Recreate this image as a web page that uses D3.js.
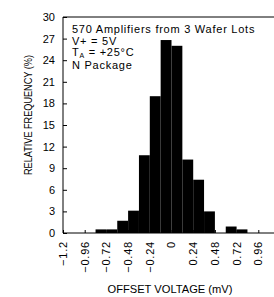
<!DOCTYPE html>
<html>
<head>
<meta charset="utf-8">
<script src="https://cdn.jsdelivr.net/npm/d3@7"></script>
<style>
  body { margin: 0; background: #fff; }
  svg text { font-family: "Liberation Sans", Arial, sans-serif; fill: #000; }
</style>
</head>
<body>
<div id="chart"></div>
<script>
// histogram bins (left edge, mV) and relative frequency (%)
var binStarts = [-0.84, -0.72, -0.6, -0.48, -0.36, -0.24, -0.12, 0, 0.12, 0.24, 0.36, 0.48, 0.6, 0.72];
var frequencies = [0.5, 0.5, 1.7, 3.1, 10.8, 19.0, 26.8, 26.0, 10.2, 7.4, 3.0, 0, 0.9, 0.5];
var binWidth = 0.12;

var xTicks = [-1.2, -0.96, -0.72, -0.48, -0.24, 0, 0.24, 0.48, 0.72, 0.96];
var yTicks = [0, 3, 6, 9, 12, 15, 18, 21, 24, 27, 30];
var notes = ["570 Amplifiers from 3 Wafer Lots", "V+ = 5V", "T_A = +25°C", "N Package"];

var totalWidth = 274;
var totalHeight = 297;

var svg = d3.select('#chart').append('svg')
    .attr('width', totalWidth)
    .attr('height', totalHeight);

var xScale = d3.scaleLinear().domain([-1.2, 1.2]).range([63, 280]);
var yScale = d3.scaleLinear().domain([0, 30]).range([233, 17]);

// bars
svg.selectAll('rect.bar')
    .data(binStarts.map(function(b, i) { return { x0: b, x1: b + binWidth, f: frequencies[i] }; }))
    .enter()
    .append('rect')
    .attr('class', 'bar')
    .attr('x', d => xScale(d.x0))
    .attr('y', d => yScale(d.f))
    .attr('width', d => xScale(d.x1) - xScale(d.x0))
    .attr('height', d => yScale(0) - yScale(d.f))
    .attr('fill', '#000');

// y axis, ticks pointing inward
var yAxis = d3.axisRight(yScale).tickValues(yTicks).tickSize(4).tickFormat('');
var yAxisGroup = svg.append('g').attr('transform', 'translate(' + xScale(-1.2) + ',0)').call(yAxis);
yAxisGroup.select('.domain').remove();
yAxisGroup.selectAll('line').attr('stroke', '#000');

svg.append('g').selectAll('text')
    .data(yTicks)
    .enter()
    .append('text')
    .attr('x', 55)
    .attr('y', d => yScale(d))
    .attr('dy', '0.36em')
    .attr('text-anchor', 'end')
    .attr('font-size', 11)
    .text(d => d);

// x axis, ticks pointing inward
var xAxis = d3.axisTop(xScale).tickValues(xTicks).tickSize(3).tickFormat('');
var xAxisGroup = svg.append('g').attr('transform', 'translate(0,' + yScale(0) + ')').call(xAxis);
xAxisGroup.select('.domain').remove();
xAxisGroup.selectAll('line').attr('stroke', '#000');

svg.append('g').selectAll('text')
    .data(xTicks)
    .enter()
    .append('text')
    .attr('transform', d => 'translate(' + xScale(d) + ',241) rotate(-90)')
    .attr('dy', '0.36em')
    .attr('text-anchor', 'end')
    .attr('font-size', 11)
    .attr('letter-spacing', 0.8)
    .text(d => d === 0 ? '0' : (d < 0 ? '\u2212' + Math.abs(d) : '' + d));

// frame
var frame = svg.append('g').attr('stroke', '#000').attr('stroke-width', 1).attr('fill', 'none');
frame.append('line').attr('x1', xScale(-1.2)).attr('x2', xScale(-1.2)).attr('y1', yScale(30)).attr('y2', yScale(0));
frame.append('line').attr('x1', xScale(-1.2)).attr('x2', xScale(1.2)).attr('y1', yScale(30)).attr('y2', yScale(30));
frame.append('line').attr('x1', xScale(-1.2)).attr('x2', xScale(1.2)).attr('y1', yScale(0)).attr('y2', yScale(0));
frame.append('line').attr('x1', xScale(1.2)).attr('x2', xScale(1.2)).attr('y1', yScale(30)).attr('y2', yScale(0));

// notes
var noteBaselines = [33.3, 44.5, 56, 69];
notes.forEach(function(n, i) {
    var t = svg.append('text')
        .attr('x', 72)
        .attr('y', noteBaselines[i])
        .attr('font-size', 11)
        .attr('letter-spacing', 0.75);
    if (n.indexOf('T_A') === 0) {
        t.append('tspan').text('T');
        t.append('tspan').attr('font-size', 7).attr('dy', 2).text('A');
        t.append('tspan').attr('dy', -2).text(n.slice(3));
    } else {
        t.text(n);
    }
});

// axis titles
svg.append('text')
    .attr('x', 170)
    .attr('y', 293)
    .attr('text-anchor', 'middle')
    .attr('font-size', 11)
    .attr('textLength', 125)
    .attr('lengthAdjust', 'spacingAndGlyphs')
    .text('OFFSET VOLTAGE (mV)');

svg.append('text')
    .attr('transform', 'translate(32,115) rotate(-90)')
    .attr('text-anchor', 'middle')
    .attr('font-size', 11)
    .attr('textLength', 120)
    .attr('lengthAdjust', 'spacingAndGlyphs')
    .text('RELATIVE FREQUENCY (%)');
</script>
</body>
</html>
